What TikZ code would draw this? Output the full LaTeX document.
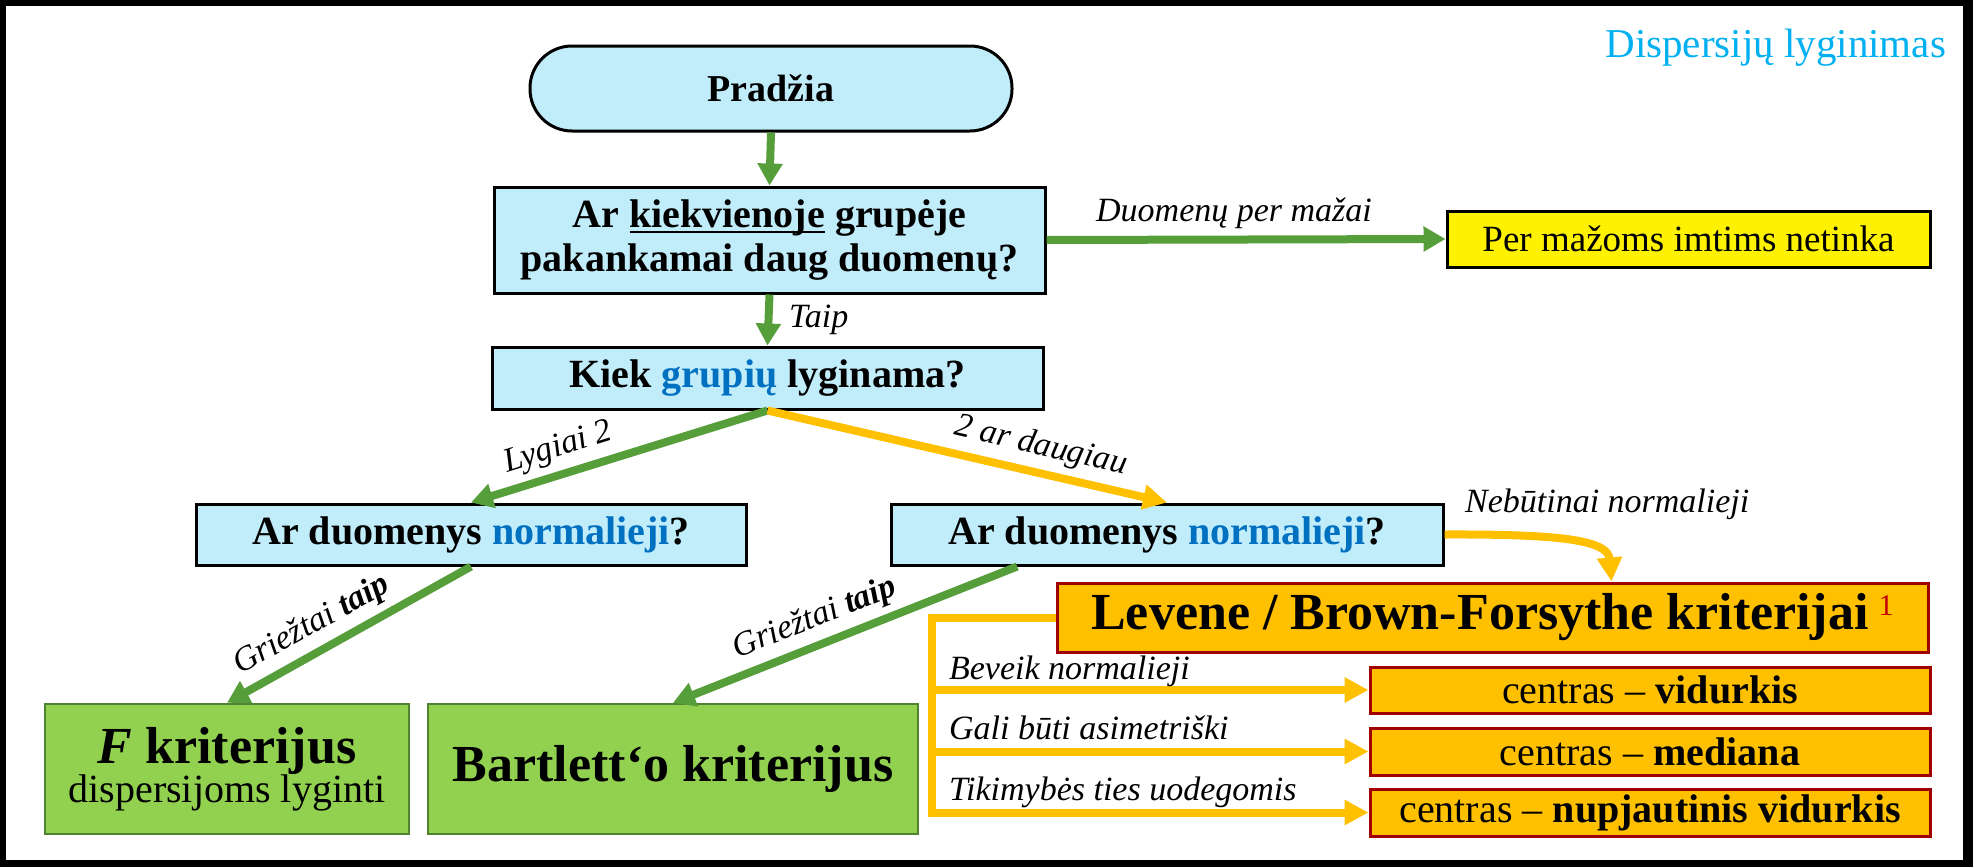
\documentclass[tikz,border=0pt]{standalone}
\usepackage{fontspec}
\setmainfont{Liberation Serif}
\usetikzlibrary{arrows.meta,calc}
\definecolor{boxblue}{RGB}{193,236,250}
\definecolor{txtblue}{RGB}{0,112,192}
\definecolor{titlecyan}{RGB}{0,176,240}
\definecolor{arrgreen}{RGB}{86,158,58}
\definecolor{arrorange}{RGB}{255,192,0}
\definecolor{fillgreen}{RGB}{146,208,80}
\definecolor{edgegreen}{RGB}{80,130,50}
\definecolor{darkred}{RGB}{160,0,0}
\definecolor{supred}{RGB}{192,0,0}
\newcommand\fq{\fontsize{20pt}{22pt}\selectfont\bfseries}
\newcommand\fbig{\fontsize{26pt}{28pt}\selectfont\bfseries}
\newcommand\flab{\fontsize{17pt}{19pt}\selectfont\itshape}
\newcommand\fc{\fontsize{20pt}{22pt}\selectfont}
\newcommand\fper{\fontsize{18.5pt}{20pt}\selectfont}
\newcommand\ftitle{\fontsize{20.5pt}{22pt}\selectfont}
\newcommand\myul[1]{{\setbox0\hbox{#1}\rlap{\rule[-2.6pt]{\wd0}{1pt}}\box0}}
\begin{document}
\begin{tikzpicture}[x=0.5pt,y=-0.5pt,
  qbox/.style={draw=black,line width=1.5pt,fill=boxblue,inner sep=0pt,align=center,font=\fq},
  gbox/.style={draw=edgegreen,line width=1.2pt,fill=fillgreen,inner sep=0pt,align=center},
  obox/.style={draw=darkred,line width=1.5pt,fill=arrorange,inner sep=0pt,align=center},
  ybox/.style={draw=black,line width=1.5pt,fill=yellow,inner sep=0pt,align=center,font=\fper},
  garrow/.style={draw=arrgreen,line width=4pt,-{Triangle[length=11pt,width=12pt]}},
  oarrow/.style={draw=arrorange,line width=4pt,line join=miter,-{Triangle[length=12pt,width=12pt]}},
  lab/.style={font=\flab}]
\useasboundingbox (0,0) rectangle (1973,867);
\fill[black] (0,0) rectangle (1973,867);
\fill[white] (6,6) rectangle (1963,860);

\node[anchor=base east,text=titlecyan,font=\ftitle] (title) at (1953,57) {Dispersijų lyginimas};

\node[qbox,rounded corners=21pt,minimum width=241pt,minimum height=42.5pt,font=\fontsize{19pt}{21pt}\selectfont\bfseries] (pradzia) at (771,88.5) {Pradžia};
\node[qbox,minimum width=275.5pt,minimum height=53pt] (q1) at (769.5,240) {Ar \myul{kiekvienoje} grupėje\\pakankamai daug duomenų?};
\node[qbox,minimum width=275.5pt,minimum height=31pt] (q2) at (767.5,378) {Kiek \textcolor{txtblue}{grupių} lyginama?};
\node[ybox,minimum width=241.5pt,minimum height=28pt] (per) at (1688.5,239) {Per mažoms imtims netinka};
\node[qbox,minimum width=275pt,minimum height=30.5pt] (nl) at (471,534.5) {Ar duomenys \textcolor{txtblue}{normalieji}?};
\node[qbox,minimum width=276pt,minimum height=30.5pt] (nr) at (1167,534.5) {Ar duomenys \textcolor{txtblue}{normalieji}?};
\node[gbox,minimum width=182pt,minimum height=65pt] (fbox) at (227,769) {{\fbig\textit{F} kriterijus}\\[-1pt]{\fc dispersijoms lyginti}};
\node[gbox,minimum width=245pt,minimum height=65pt,font=\fbig] (bart) at (673,769) {Bartlett‘o kriterijus};
\node[obox,minimum width=435.5pt,minimum height=34.5pt,font=\fbig] (lev) at (1492.5,617.5) {Levene / Brown-Forsythe kriterijai\hspace{5pt}\raisebox{7pt}{\fontsize{15pt}{15pt}\selectfont\mdseries\textcolor{supred}{1}}};
\node[obox,minimum width=280pt,minimum height=23pt,font=\fc] (c1) at (1650,690) {centras – \textbf{vidurkis}};
\node[obox,minimum width=280pt,minimum height=23.5pt,font=\fc] (c2) at (1650,751.5) {centras – \textbf{mediana}};
\node[obox,minimum width=280pt,minimum height=23.5pt,font=\fc] (c3) at (1650,812.5) {centras – \textbf{nupjautinis vidurkis}};

\draw[garrow] (pradzia.south) -- (q1.north);
\draw[garrow] (q1.south) -- node[lab,right,xshift=5pt] {Taip} (q2.north);
\draw[garrow] (q1.east) -- node[lab,above,pos=0.47] {Duomenų per mažai} (per.west);
\draw[garrow] (q2.south) -- node[lab,sloped,above,pos=0.68] {Lygiai 2} (nl.north);
\draw[oarrow] (q2.south) -- node[lab,sloped,above,pos=0.67] {2 ar daugiau} (nr.north);
\draw[garrow] (nl.south) -- node[lab,sloped,above,pos=0.6] {Griežtai \textbf{taip}} (fbox.north);
\draw[garrow] ($(nr.south west)!0.23!(nr.south east)$) -- node[lab,sloped,above,pos=0.56] {Griežtai \textbf{taip}} (bart.north);

\coordinate (levtop) at ($(lev.north west)+(556,0)$);
\draw[oarrow] (nr.east) .. controls (1560,534) and (1608,540) .. (levtop);
\node[lab,anchor=base west] (nebut) at (1458,512) {Nebūtinai normalieji};

\coordinate (bx) at ($(lev.west)+(-124,0)$);
\draw[oarrow] (lev.west) -- (bx) |- (c3.west);
\draw[oarrow] (bx |- c1.west) -- (c1.west);
\draw[oarrow] (bx |- c2.west) -- (c2.west);
\node[lab,anchor=base west] (l1) at (942,679) {Beveik normalieji};
\node[lab,anchor=base west] (l2) at (942,739) {Gali būti asimetriški};
\node[lab,anchor=base west] (l3) at (942,800) {Tikimybės ties uodegomis};
\end{tikzpicture}
\end{document}
